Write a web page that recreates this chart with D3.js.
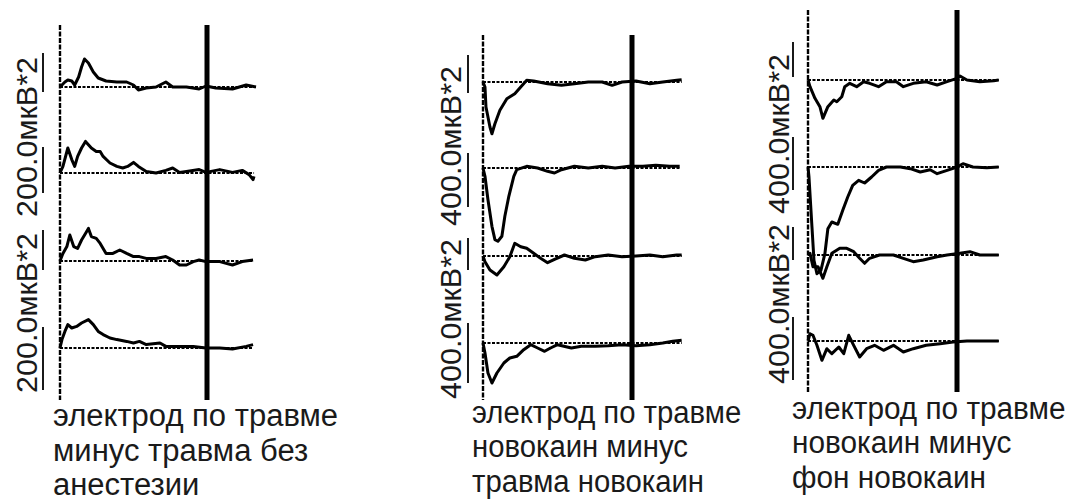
<!DOCTYPE html>
<html>
<head>
<meta charset="utf-8">
<script src="https://cdn.jsdelivr.net/npm/d3@7"></script>
<style>
  body { margin: 0; background: #fff; }
</style>
</head>
<body>
<div id="chart"></div>
<script>
// time axis (ms) and amplitude units (мкВ*2); each trace is [t, value]
var timeDomain = [0, 200];
var markTime = 150;

// panel 1: электрод по травме минус травма без анестезии (scale 200.0)
var p1r1 = [[0,0],[5,25],[8,35],[12,30],[15,10],[19,50],[22,100],[25,140],[29,120],[34,75],[39,45],[47,30],[58,25],[68,25],[75,10],[80,-15],[88,-5],[98,0],[108,25],[115,0],[129,0],[142,-10],[149,5],[159,-5],[176,-10],[190,10],[200,0]];
var p1r2 = [[0,0],[3,33],[8,125],[12,67],[15,33],[18,83],[22,125],[26,158],[32,125],[37,108],[41,108],[44,83],[51,50],[58,33],[64,25],[69,33],[75,53],[80,33],[88,8],[98,0],[108,13],[115,25],[122,3],[129,8],[142,17],[149,3],[163,17],[176,3],[186,13],[193,-8],[197,-33],[198,-17]];
var p1r3 = [[0,0],[3,38],[7,72],[10,130],[14,72],[18,63],[22,105],[26,138],[29,163],[32,122],[37,113],[41,88],[47,38],[54,38],[61,55],[68,38],[75,22],[81,22],[88,13],[98,13],[108,22],[115,5],[122,-20],[129,-20],[136,-3],[142,5],[149,-3],[163,-3],[176,-20],[186,-3],[197,5]];
var p1r4 = [[0,0],[2,42],[5,83],[8,117],[12,100],[17,108],[22,125],[29,142],[34,117],[39,83],[44,67],[51,50],[58,42],[68,33],[75,25],[81,33],[88,17],[102,25],[108,8],[122,8],[136,8],[149,0],[163,0],[176,-5],[190,8],[197,17]];

// panel 2: электрод по травме новокаин минус травма новокаин (scale 400.0)
var p2r1 = [[0,0],[2,-50],[3,-250],[7,-450],[9,-517],[12,-417],[17,-283],[24,-167],[32,-117],[38,-50],[44,17],[51,10],[65,-17],[79,-33],[92,-17],[106,0],[120,0],[130,-33],[140,0],[154,10],[168,-17],[181,0],[195,17],[200,23]];
var p2r2 = [[0,0],[2,-83],[5,-317],[9,-583],[12,-717],[15,-733],[19,-683],[22,-483],[26,-283],[31,-83],[34,-17],[44,17],[55,0],[65,-33],[72,-50],[79,-17],[92,17],[106,0],[120,17],[133,0],[147,17],[161,17],[174,27],[188,17],[198,17]];
var p2r3 = [[0,0],[2,-57],[7,-140],[14,-190],[21,-107],[27,-7],[32,127],[38,93],[44,77],[51,27],[58,-23],[65,-67],[72,-33],[82,10],[92,-23],[103,-40],[113,-7],[126,10],[140,-7],[154,0],[168,10],[181,-7],[195,10],[200,10]];
var p2r4 = [[0,0],[2,-100],[5,-300],[9,-400],[14,-300],[21,-200],[27,-150],[34,-133],[41,-67],[48,-17],[55,-50],[62,-83],[68,-50],[75,-17],[89,-50],[99,-33],[113,-33],[126,-27],[140,-17],[154,-27],[168,-17],[181,0],[191,17],[200,27]];

// panel 3: электрод по травме новокаин минус фон новокаин (scale 400.0)
var p3r1 = [[0,0],[2,-67],[7,-183],[12,-267],[15,-383],[20,-267],[26,-200],[29,-217],[34,-167],[37,-67],[42,-33],[49,-67],[56,-17],[62,-33],[71,-67],[79,-17],[89,-17],[96,-67],[106,-33],[119,-17],[130,-50],[140,-17],[150,17],[153,40],[160,0],[173,-17],[187,-7],[192,0]];
var p3r2 = [[0,0],[1,-100],[4,-600],[6,-933],[9,-1067],[13,-1033],[17,-867],[20,-617],[24,-550],[30,-573],[35,-433],[40,-300],[45,-183],[51,-133],[57,-160],[64,-100],[71,-33],[79,0],[93,0],[103,-17],[113,-50],[123,-27],[130,-67],[140,-33],[150,0],[156,33],[166,0],[180,-7],[192,0]];
var p3r3 = [[0,0],[2,17],[5,-117],[10,-117],[15,-233],[19,-117],[24,17],[32,67],[39,67],[46,33],[52,-33],[57,-83],[62,-33],[72,0],[86,0],[96,-33],[106,-67],[116,-50],[130,-17],[140,0],[153,17],[163,33],[173,0],[192,0]];
var p3r4 = [[0,0],[2,73],[5,57],[9,-43],[14,-193],[19,-77],[24,-127],[31,-60],[36,-127],[41,57],[46,-43],[52,-160],[59,-77],[67,-43],[76,-93],[86,-43],[96,-110],[106,-77],[119,-43],[133,-27],[146,-10],[160,0],[173,0],[192,0]];

var scaleLabels = ["200.0мкВ*2", "400.0мкВ*2", "400.0мкВ*2"];
var captions = [
    ["электрод по травме", "минус травма без", "анестезии"],
    ["электрод по травме", "новокаин минус", "травма новокаин"],
    ["электрод по травме", "новокаин минус", "фон новокаин"]
];

// layout of each panel on the page
var panels = [
    { traces: [p1r1, p1r2, p1r3, p1r4], unit: 200, x0: 60, x150: 207, rows: [87, 173, 261, 348],
      top: 25, bottom: 400, labelX: 37, labelY: [393, 217], barX: 43,
      bars: [[53, 92], [147, 193], [230, 270], [327, 390]], capX: 53, capY: 426, capS: 1.0 },
    { traces: [p2r1, p2r2, p2r3, p2r4], unit: 400, x0: 483, x150: 632, rows: [82, 168, 256, 343],
      top: 35, bottom: 400, labelX: 461, labelY: [399, 226], barX: 468,
      bars: [[55, 93], [153, 207], [238, 270], [323, 383]], capX: 472, capY: 423, capS: 0.945 },
    { traces: [p3r1, p3r2, p3r3, p3r4], unit: 400, x0: 808, x150: 957, rows: [80, 167, 255, 341],
      top: 10, bottom: 392, labelX: 789, labelY: [384, 214], barX: 793,
      bars: [[42, 77], [137, 190], [227, 260], [317, 380]], capX: 792, capY: 419, capS: 0.96 }
];

var width = 1079, height = 501;
var svg = d3.select("#chart")
    .append("svg")
    .attr("width", width)
    .attr("height", height);

panels.forEach(function (p, pi) {
    var g = svg.append("g");

    var xScale = d3.scaleLinear()
        .domain([0, markTime])
        .range([p.x0, p.x150]);

    // dotted time-zero axis
    g.append("line")
        .attr("x1", p.x0).attr("x2", p.x0)
        .attr("y1", p.top).attr("y2", p.bottom)
        .attr("stroke", "#000").attr("stroke-width", 2.4)
        .attr("stroke-dasharray", "5,1.5");

    // thick marker line
    g.append("line")
        .attr("x1", xScale(markTime)).attr("x2", xScale(markTime))
        .attr("y1", p.top).attr("y2", p.bottom)
        .attr("stroke", "#000").attr("stroke-width", 5);

    p.traces.forEach(function (data, ri) {
        var yScale = d3.scaleLinear()
            .domain([0, p.unit])
            .range([p.rows[ri], p.rows[ri] - 40]);

        var tEnd = d3.max(data, function (d) { return d[0]; });

        // dotted baseline
        g.append("line")
            .attr("x1", xScale(0)).attr("x2", xScale(tEnd))
            .attr("y1", yScale(0)).attr("y2", yScale(0))
            .attr("stroke", "#000").attr("stroke-width", 2)
            .attr("stroke-dasharray", "3,1.5");

        var line = d3.line()
            .x(function (d) { return xScale(d[0]); })
            .y(function (d) { return yScale(d[1]); });

        g.append("path")
            .datum(data)
            .attr("d", line)
            .attr("fill", "none")
            .attr("stroke", "#000")
            .attr("stroke-width", 3)
            .attr("stroke-linejoin", "round");
    });

    // scale bars
    g.selectAll(".bar")
        .data(p.bars)
        .enter()
        .append("line")
        .attr("x1", p.barX).attr("x2", p.barX)
        .attr("y1", function (d) { return d[0]; })
        .attr("y2", function (d) { return d[1]; })
        .attr("stroke", "#000").attr("stroke-width", 1.8);

    // vertical scale labels, written twice
    p.labelY.forEach(function (ly) {
        g.append("text")
            .attr("transform", "translate(" + p.labelX + "," + ly + ") rotate(-90)")
            .attr("font-family", "Liberation Sans, Arial, sans-serif")
            .attr("font-size", "30px")
            .attr("textLength", 160)
            .attr("lengthAdjust", "spacingAndGlyphs")
            .attr("fill", "#1a1a1a")
            .text(scaleLabels[pi]);
    });

    // caption
    g.append("g")
        .attr("transform", "translate(" + p.capX + ",0) scale(" + p.capS + ",1)")
        .selectAll("text")
        .data(captions[pi])
        .enter()
        .append("text")
        .attr("x", 0)
        .attr("y", function (d, i) { return p.capY + i * 34.5; })
        .attr("font-family", "Liberation Sans, Arial, sans-serif")
        .attr("font-size", "31px")
        .attr("fill", "#1a1a1a")
        .text(function (d) { return d; });
});
</script>
</body>
</html>
